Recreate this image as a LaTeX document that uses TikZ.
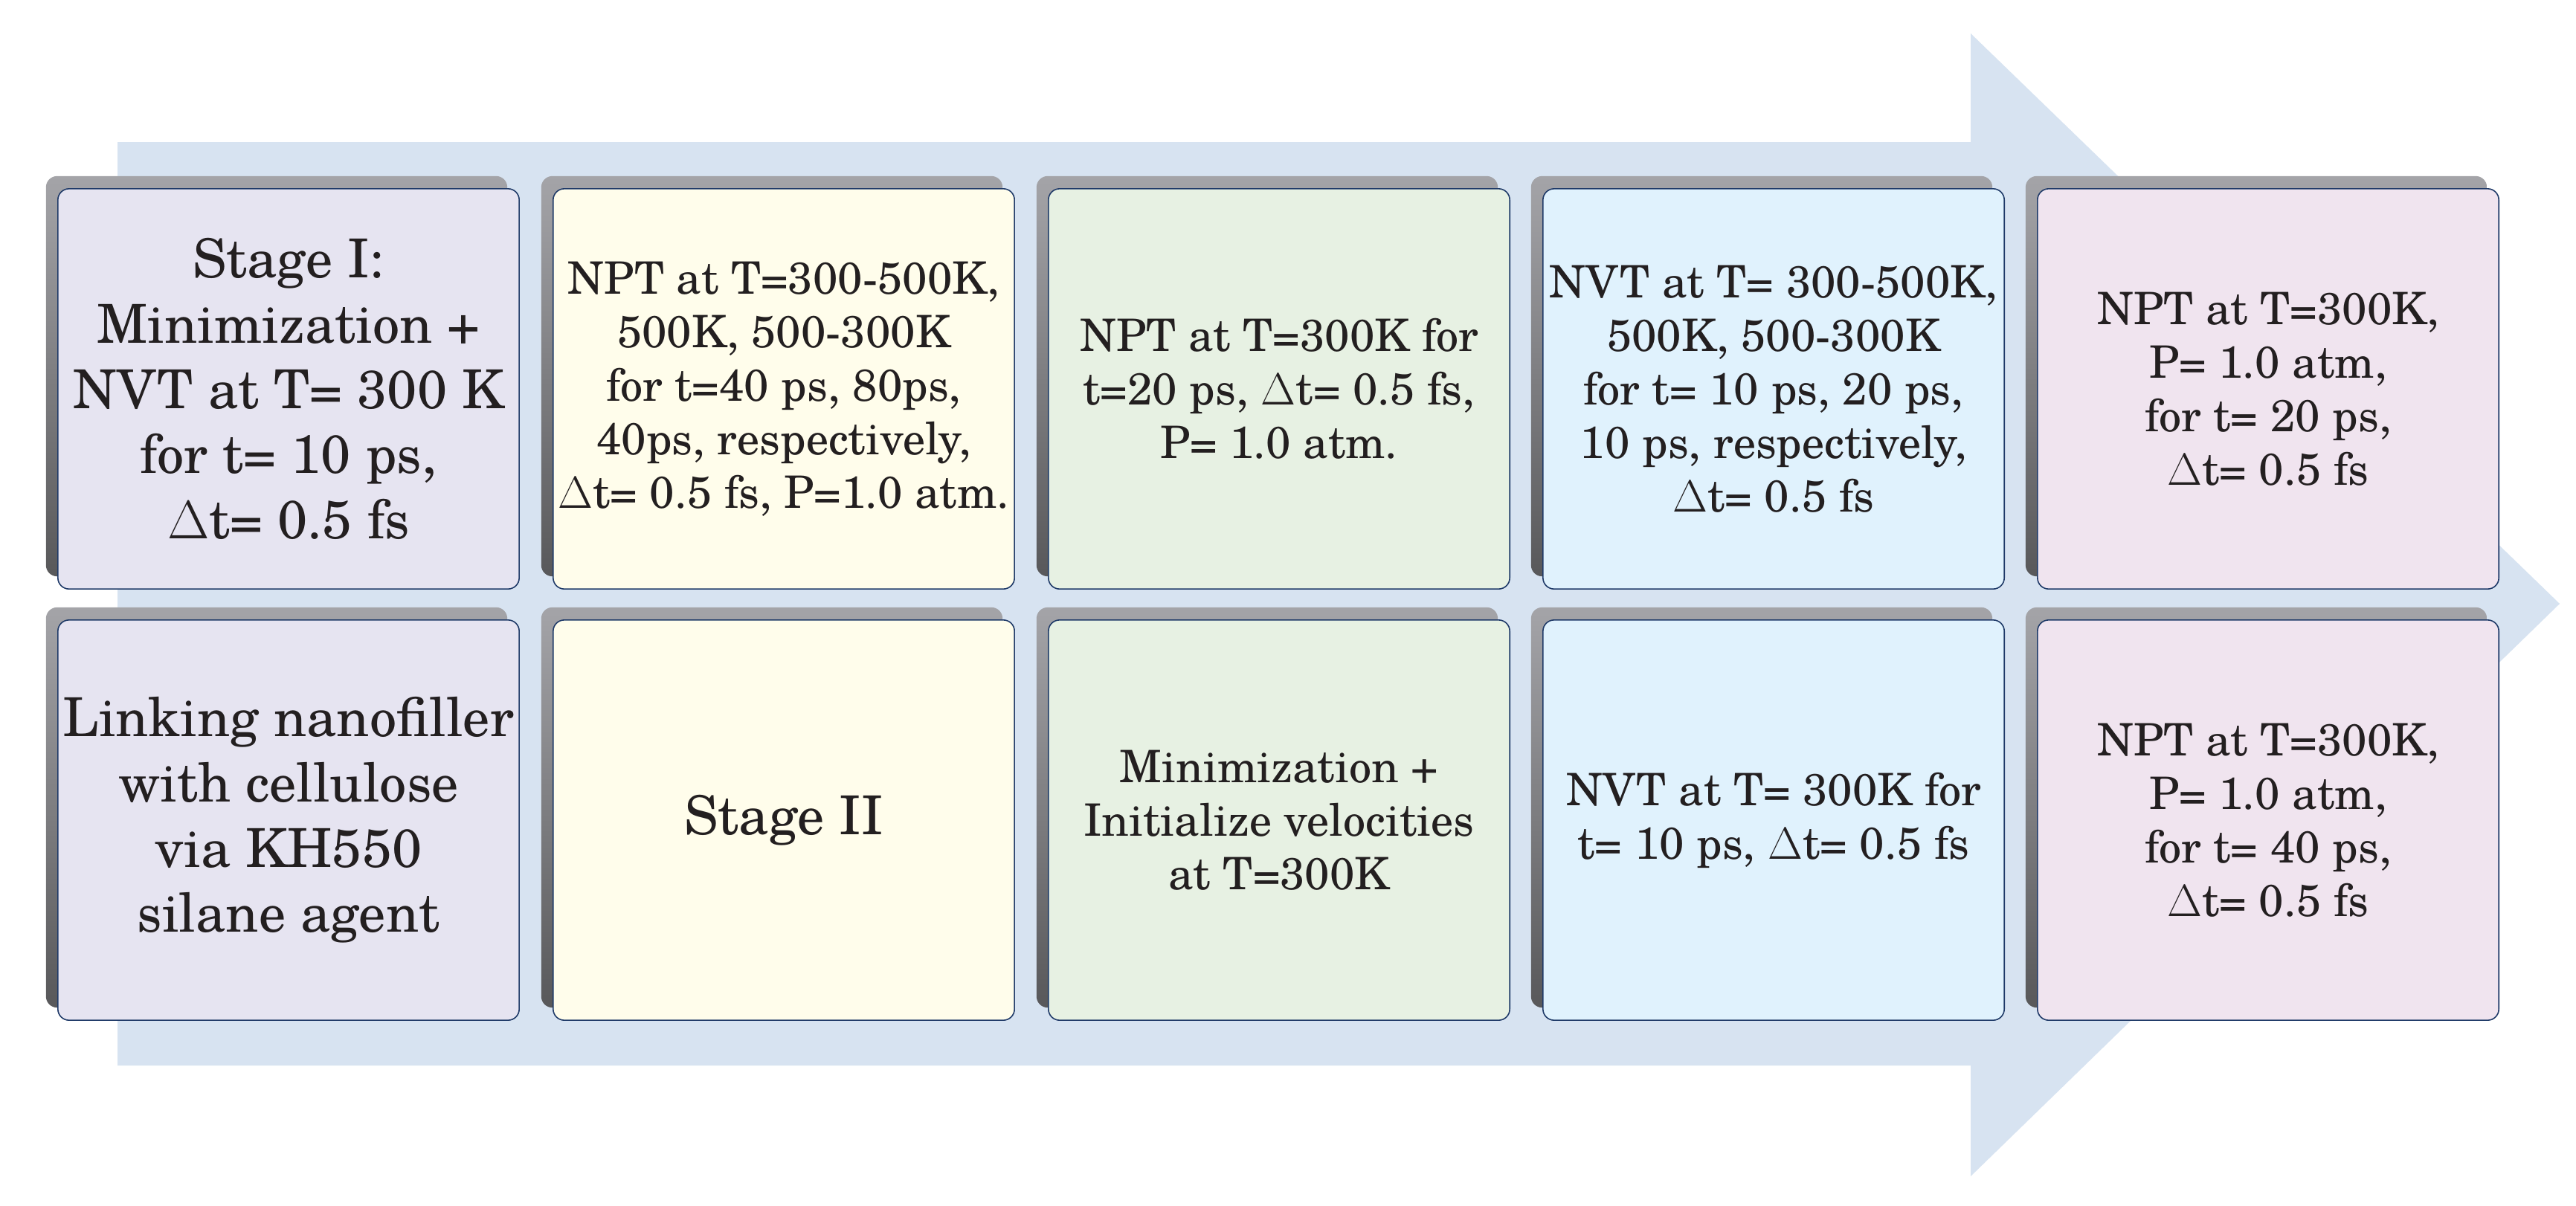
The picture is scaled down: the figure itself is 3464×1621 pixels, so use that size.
\documentclass[tikz,border=0pt]{standalone}
\usepackage{fontspec}
\setmainfont{texgyreschola}[Extension=.otf, UprightFont=*-regular, BoldFont=*-bold, ItalicFont=*-italic, BoldItalicFont=*-bolditalic]
\usetikzlibrary{shadows}
\definecolor{arrowcol}{HTML}{D7E3F1}
\definecolor{cone}{HTML}{E6E4F1}
\definecolor{ctwo}{HTML}{FFFDEB}
\definecolor{cthree}{HTML}{E7F1E3}
\definecolor{cfour}{HTML}{E0F2FD}
\definecolor{cfive}{HTML}{F0E4EF}
\definecolor{edgecol}{HTML}{1F3A68}
\definecolor{txtcol}{HTML}{231F20}
\definecolor{shtop}{HTML}{A4A4A8}
\definecolor{shbot}{HTML}{58585A}
\tikzset{
  stagebox/.style={draw=edgecol, line width=0.45pt, rounded corners=0.15cm,
    minimum width=6.2cm, minimum height=5.38cm, inner sep=0pt, align=center,
    text=txtcol, font=\fontsize{17.1}{20.5}\selectfont,
    general shadow={shadow xshift=-0.16cm, shadow yshift=0.17cm,
      top color=shtop, bottom color=shbot}},
  bigtext/.style={font=\fontsize{20.55}{24.9}\selectfont}
}
\begin{document}
\begin{tikzpicture}[x=0.01cm, y=-0.01cm]
\useasboundingbox (0,0) rectangle (3464,1621);
\fill[white] (0,0) rectangle (3464,1621);
\fill[arrowcol] (158,191) -- (2650,191) -- (2650,45) -- (3442,812) -- (2650,1582) -- (2650,1433) -- (158,1433) -- cycle;
% top row
\node[stagebox, bigtext, fill=cone] (t1) at (388,523) {Stage I:\\Minimization +\\NVT at T= 300 K\\for t= 10 ps,\\$\Delta$t= 0.5 fs};
\node[stagebox, fill=ctwo] (t2) at (1054,523) {NPT at T=300-500K,\\500K, 500-300K\\for t=40 ps, 80ps,\\40ps, respectively,\\$\Delta$t= 0.5 fs, P=1.0 atm.};
\node[stagebox, fill=cthree] (t3) at (1720,523) {NPT at T=300K for\\t=20 ps, $\Delta$t= 0.5 fs,\\P= 1.0 atm.};
\node[stagebox, fill=cfour] (t4) at (2385,523) {NVT at T= 300-500K,\\500K, 500-300K\\for t= 10 ps, 20 ps,\\10 ps, respectively,\\$\Delta$t= 0.5 fs};
\node[stagebox, fill=cfive] (t5) at (3050,523) {NPT at T=300K,\\P= 1.0 atm,\\for t= 20 ps,\\$\Delta$t= 0.5 fs};
% bottom row
\node[stagebox, bigtext, fill=cone] (b1) at (388,1103) {Linking nanofiller\\with cellulose\\via KH550\\silane agent};
\node[stagebox, bigtext, fill=ctwo] (b2) at (1054,1103) {Stage II};
\node[stagebox, fill=cthree] (b3) at (1720,1103) {Minimization +\\Initialize velocities\\at T=300K};
\node[stagebox, fill=cfour] (b4) at (2385,1103) {NVT at T= 300K for\\t= 10 ps, $\Delta$t= 0.5 fs};
\node[stagebox, fill=cfive] (b5) at (3050,1103) {NPT at T=300K,\\P= 1.0 atm,\\for t= 40 ps,\\$\Delta$t= 0.5 fs};
\end{tikzpicture}
\end{document}
